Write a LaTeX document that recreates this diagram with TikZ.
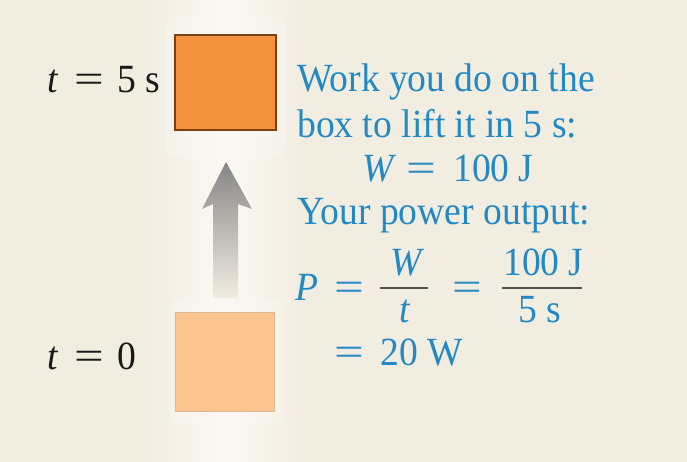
\documentclass[tikz,border=0pt]{standalone}
\usepackage{fontspec}
\setmainfont{Liberation Serif}[FakeStretch=0.94]
\definecolor{bg}{HTML}{F2EDE1}
\definecolor{glow}{HTML}{FBF9F4}
\definecolor{txtblue}{HTML}{2389C4}
\definecolor{boxorange}{HTML}{F4913D}
\definecolor{boxedge}{HTML}{7A4315}
\definecolor{boxpeach}{HTML}{FCC58F}
\definecolor{peachedge}{HTML}{D9B590}
\definecolor{barcol}{HTML}{505050}
\newcommand{\eqs}{\scalebox{1.4}[1]{=}}
\begin{document}
\begin{tikzpicture}[x=1pt,y=-1pt,
  lbl/.style={anchor=base west, inner sep=0pt, font=\fontsize{40}{44}\selectfont},
  blue/.style={lbl, text=txtblue},
  dark/.style={lbl, text=black!90},
  fracbar/.style={draw=barcol, line width=2pt}]
\useasboundingbox (0,0) rectangle (687,462);
\fill[bg] (0,0) rectangle (687,462);
% light column behind the boxes
\shade[left color=bg, right color=bg, middle color=glow] (150,0) rectangle (300,462);
\fill[glow, opacity=0.35, rounded corners=10pt] (166,16) rectangle (285,158);
\fill[glow, opacity=0.3, rounded corners=10pt] (168,300) rectangle (282,425);
% boxes
\node (top) [draw=boxedge, line width=2.5pt, fill=boxorange, minimum width=101pt, minimum height=95pt, inner sep=0pt] at (225.5,82.5) {};
\node (bot) [draw=peachedge, line width=1pt, fill=boxpeach, minimum width=99pt, minimum height=99pt, inner sep=0pt] at (224.5,361.5) {};
% arrow
\coordinate (tip) at (226,162);
\shade[top color=gray!95, bottom color=bg]
  (tip) -- (252,209) -- (238,204) -- (238,298) -- (213,298) -- (213,204) -- (202,209) -- cycle;
% left labels
\node (l5t) [dark] at (47,93) {\textit{t}};
\node (l5e) [dark] at (74,93) {\eqs};
\node (l5n) [dark] at (117,93) {5};
\node (l5s) [dark] at (145,93) {s};
\node (l0t) [dark] at (47,369) {\textit{t}};
\node (l0e) [dark] at (74,369) {\eqs};
\node (l0n) [dark] at (117,369) {0};
% right text
\node (r1) [blue] at (297,92) {Work you do on the};
\node (r2) [blue] at (297,138) {box to lift it in 5 s:};
\node (r3a) [blue] at (362,182) {\textit{W}};
\node (r3b) [blue] at (406,182) {\eqs};
\node (r3c) [blue] at (453,182) {100 J};
\node (r4) [blue] at (297,225) {Your power output:};
\node (pP) [blue] at (295,300) {\textit{P}};
\node (pe1) [blue] at (334,300) {\eqs};
\node (pW) [blue] at (390,275) {\textit{W}};
\node (pt) [blue] at (399,322) {\textit{t}};
\draw[fracbar] (380,288) -- (428,288);
\node (pe2) [blue] at (452,300) {\eqs};
\node (pn) [blue] at (503,275) {100 J};
\node (pd) [blue] at (518,322) {5 s};
\draw[fracbar] (502,288) -- (582,288);
\node (pe3) [blue] at (334,365) {\eqs};
\node (pr) [blue] at (380,365) {20 W};
\end{tikzpicture}
\end{document}
